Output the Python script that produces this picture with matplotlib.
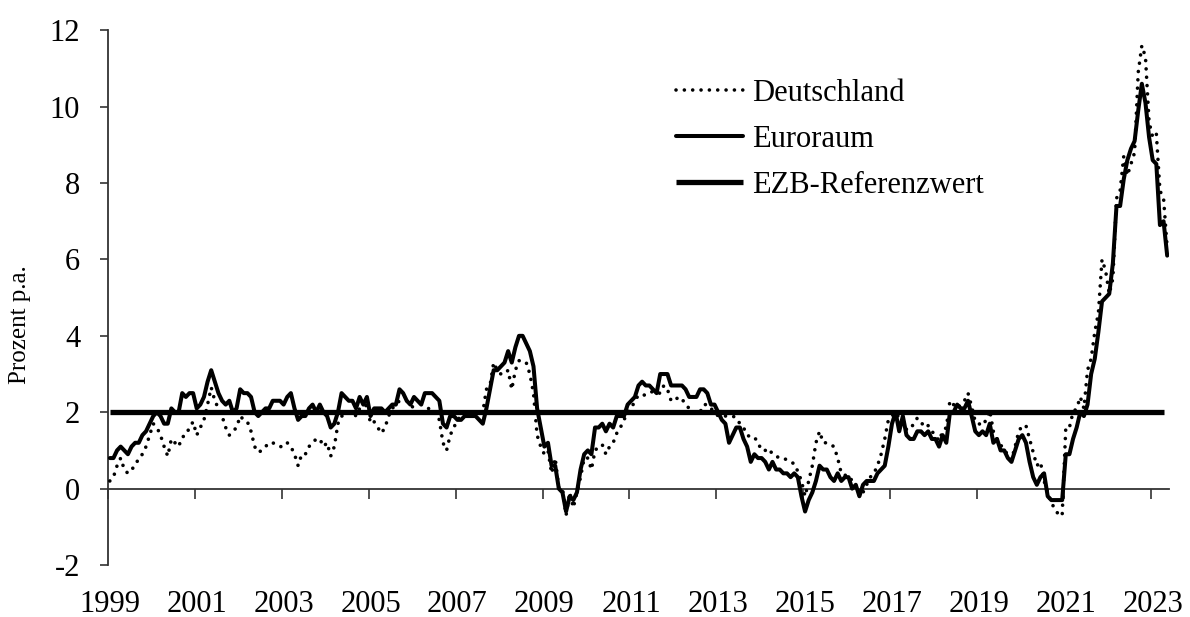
import matplotlib
matplotlib.use("Agg")
import matplotlib.pyplot as plt

plt.rcParams['font.family'] = ['Liberation Serif', 'DejaVu Serif']

# Monthly HICP inflation, Jan 1999 - May 2023 (percent p.a.)
deutschland = [
    0.2, 0.3, 0.6, 0.8, 0.5, 0.4, 0.5, 0.6, 0.8, 0.9, 1.1, 1.4,          # 1999
    1.7, 1.6, 1.4, 1.1, 0.85, 1.3, 1.2, 1.1, 1.35, 1.4, 1.6, 1.75,      # 2000
    1.4, 1.6, 1.8, 2.2, 2.65, 2.3, 2.1, 1.9, 1.6, 1.4, 1.5, 1.6,        # 2001
    1.9, 1.8, 1.75, 1.5, 1.1, 0.95, 1.0, 1.1, 1.2, 1.2, 1.15, 1.1,      # 2002
    1.1, 1.2, 1.1, 0.9, 0.6, 0.9, 0.9, 1.1, 1.2, 1.3, 1.3, 1.1,         # 2003
    1.2, 0.85, 1.1, 1.7, 1.9, 1.9, 2.0, 2.0, 1.9, 2.1, 2.1, 2.2,        # 2004
    1.7, 1.75, 1.6, 1.45, 1.6, 1.9, 2.1, 2.2, 2.3, 2.3, 2.3, 2.2,       # 2005
    2.1, 2.0, 1.9, 2.1, 2.1, 2.0, 2.0, 1.8, 1.2, 1.0, 1.4, 1.6,         # 2006
    1.8, 1.9, 2.0, 2.0, 2.0, 2.0, 2.0, 2.0, 2.6, 2.7, 3.3, 3.1,         # 2007
    3.0, 3.0, 3.1, 2.6, 3.1, 3.35, 3.35, 3.3, 3.0, 2.5, 1.4, 1.1,       # 2008
    0.9, 1.0, 0.4, 0.8, 0.0, 0.0, -0.7, -0.1, -0.5, -0.1, 0.3, 0.8,     # 2009
    0.8, 0.5, 1.0, 1.1, 1.15, 0.9, 1.1, 1.2, 1.45, 1.6, 1.8, 2.0,       # 2010
    2.1, 2.3, 2.45, 2.45, 2.45, 2.5, 2.55, 2.5, 2.5, 2.7, 2.6, 2.3,     # 2011
    2.3, 2.4, 2.35, 2.2, 2.1, 2.0, 1.95, 2.0, 2.2, 2.2, 2.1, 2.0,       # 2012
    1.9, 1.9, 1.9, 1.9, 1.9, 1.85, 1.7, 1.6, 1.4, 1.35, 1.35, 1.2,      # 2013
    1.0, 1.0, 1.05, 0.9, 0.85, 0.8, 0.8, 0.75, 0.7, 0.65, 0.45, 0.2,    # 2014
    -0.2, 0.2, 0.6, 1.2, 1.5, 1.2, 1.2, 1.15, 1.1, 0.8, 0.4, 0.35,      # 2015
    0.35, 0.2, 0.1, -0.2, -0.1, 0.1, 0.3, 0.4, 0.6, 0.9, 1.3, 1.8,      # 2016
    1.9, 2.0, 1.85, 1.8, 1.55, 1.55, 1.7, 1.85, 1.75, 1.6, 1.65, 1.5,   # 2017
    1.4, 1.25, 1.5, 1.6, 2.3, 2.2, 2.1, 2.2, 2.3, 2.5, 2.15, 1.75,      # 2018
    1.7, 1.65, 1.8, 2.05, 1.5, 1.3, 1.15, 1.0, 0.9, 0.75, 1.1, 1.5,     # 2019
    1.65, 1.65, 1.3, 0.95, 0.6, 0.7, 0.2, -0.1, -0.4, -0.5, -0.7, -0.7, # 2020
    1.6, 1.6, 2.0, 2.1, 2.4, 2.1, 3.1, 3.4, 4.1, 4.6, 6.0, 5.7,         # 2021
    5.1, 5.5, 7.6, 7.8, 8.7, 8.2, 8.5, 8.8, 10.9, 11.6, 11.3, 9.6,      # 2022
    9.2, 9.3, 7.8, 7.6, 6.3,                                            # 2023
]
euroraum = [
    0.8, 0.8, 1.0, 1.1, 1.0, 0.9, 1.1, 1.2, 1.2, 1.4, 1.5, 1.7,         # 1999
    1.9, 2.0, 1.9, 1.7, 1.7, 2.1, 2.0, 2.0, 2.5, 2.4, 2.5, 2.5,         # 2000
    2.1, 2.2, 2.4, 2.8, 3.1, 2.8, 2.5, 2.3, 2.2, 2.3, 2.0, 2.1,         # 2001
    2.6, 2.5, 2.5, 2.4, 2.0, 1.9, 2.0, 2.1, 2.1, 2.3, 2.3, 2.3,         # 2002
    2.2, 2.4, 2.5, 2.1, 1.8, 1.9, 1.9, 2.1, 2.2, 2.0, 2.2, 2.0,         # 2003
    1.9, 1.6, 1.7, 2.0, 2.5, 2.4, 2.3, 2.3, 2.1, 2.4, 2.2, 2.4,         # 2004
    1.9, 2.1, 2.1, 2.1, 2.0, 2.1, 2.2, 2.2, 2.6, 2.5, 2.3, 2.2,         # 2005
    2.4, 2.3, 2.2, 2.5, 2.5, 2.5, 2.4, 2.3, 1.7, 1.6, 1.9, 1.9,         # 2006
    1.8, 1.8, 1.9, 1.9, 1.9, 1.9, 1.8, 1.7, 2.1, 2.6, 3.1, 3.1,         # 2007
    3.2, 3.3, 3.6, 3.3, 3.7, 4.0, 4.0, 3.8, 3.6, 3.2, 2.1, 1.6,         # 2008
    1.1, 1.2, 0.6, 0.6, 0.0, -0.1, -0.6, -0.2, -0.3, -0.1, 0.5, 0.9,    # 2009
    1.0, 0.9, 1.6, 1.6, 1.7, 1.5, 1.7, 1.6, 1.9, 1.9, 1.9, 2.2,         # 2010
    2.3, 2.4, 2.7, 2.8, 2.7, 2.7, 2.6, 2.5, 3.0, 3.0, 3.0, 2.7,         # 2011
    2.7, 2.7, 2.7, 2.6, 2.4, 2.4, 2.4, 2.6, 2.6, 2.5, 2.2, 2.2,         # 2012
    2.0, 1.8, 1.7, 1.2, 1.4, 1.6, 1.6, 1.3, 1.1, 0.7, 0.9, 0.8,         # 2013
    0.8, 0.7, 0.5, 0.7, 0.5, 0.5, 0.4, 0.4, 0.3, 0.4, 0.3, -0.2,        # 2014
    -0.6, -0.3, -0.1, 0.2, 0.6, 0.5, 0.5, 0.3, 0.2, 0.4, 0.2, 0.3,      # 2015
    0.3, 0.0, 0.1, -0.2, 0.1, 0.2, 0.2, 0.2, 0.4, 0.5, 0.6, 1.1,        # 2016
    1.7, 2.0, 1.5, 1.9, 1.4, 1.3, 1.3, 1.5, 1.5, 1.4, 1.5, 1.3,         # 2017
    1.3, 1.1, 1.4, 1.2, 2.0, 2.0, 2.2, 2.1, 2.1, 2.3, 1.9, 1.5,         # 2018
    1.4, 1.5, 1.4, 1.7, 1.2, 1.3, 1.0, 1.0, 0.8, 0.7, 1.0, 1.3,         # 2019
    1.4, 1.2, 0.7, 0.3, 0.1, 0.3, 0.4, -0.2, -0.3, -0.3, -0.3, -0.3,    # 2020
    0.9, 0.9, 1.3, 1.6, 2.0, 1.9, 2.2, 3.0, 3.4, 4.1, 4.9, 5.0,         # 2021
    5.1, 5.9, 7.4, 7.4, 8.1, 8.6, 8.9, 9.1, 9.9, 10.6, 10.1, 9.2,       # 2022
    8.6, 8.5, 6.9, 7.0, 6.1,                                            # 2023
]
ezb_referenzwert = 2.0
year_labels = [str(y) for y in range(1999, 2024, 2)]
y_ticks = [-2, 0, 2, 4, 6, 8, 10, 12]

n = len(euroraum)
months = list(range(n))

W, H = 1190, 617
fig = plt.figure(figsize=(W / 100, H / 100), dpi=100)
ax = fig.add_axes([108 / W, 1 - 565 / H, (1169 - 108) / W, (565 - 30.3) / H])

ax.plot(months, deutschland, color='black', lw=2.6, linestyle=(0, (0.01, 2.3)),
        dash_capstyle='round', label='Deutschland', zorder=3)
ax.plot(months, euroraum, color='black', lw=2.9, solid_joinstyle='round',
        solid_capstyle='round', label='Euroraum', zorder=4)
ax.plot(months[:-1], [ezb_referenzwert] * (n - 1), color='black', lw=3.8,
        solid_capstyle='butt', label='EZB-Referenzwert', zorder=2)

ax.set_xlim(-0.5, n - 0.5)
ax.set_ylim(-2, 12)

axis_color = '#333333'
for s in ['top', 'right', 'bottom']:
    ax.spines[s].set_visible(False)
ax.spines['left'].set_color(axis_color)
ax.spines['left'].set_linewidth(1.3)

ax.set_yticks(y_ticks)
ax.set_yticklabels([str(v) for v in y_ticks])
ax.tick_params(axis='y', direction='out', length=6, width=1.2, color=axis_color,
               labelsize=22, pad=14)

# year labels at the bottom (no tick marks)
ax.set_xticks(months[::24])
ax.set_xticklabels(year_labels)
ax.tick_params(axis='x', length=0, labelsize=22, pad=18)

# horizontal axis line at zero with tick marks between categories
sec = ax.secondary_xaxis(2 / 14)
sec.spines['bottom'].set_color(axis_color)
sec.spines['bottom'].set_linewidth(1.3)
sec.set_xticks([m - 0.5 for m in months[::24]])
sec.set_xticklabels([])
sec.tick_params(axis='x', direction='out', length=7, width=1.2, color=axis_color)

fig.text(20 / W, 1 - 325 / H, 'Prozent p.a.', rotation=90, ha='center', va='center',
         fontsize=18)

leg = ax.legend(loc='upper left', bbox_to_anchor=(676 / W, 1 - 79 / H),
                bbox_transform=fig.transFigure, frameon=False, fontsize=22,
                handlelength=2.2, handletextpad=0.3, labelspacing=0.55,
                borderpad=0, borderaxespad=0)

fig.savefig('out.png', dpi=100)
